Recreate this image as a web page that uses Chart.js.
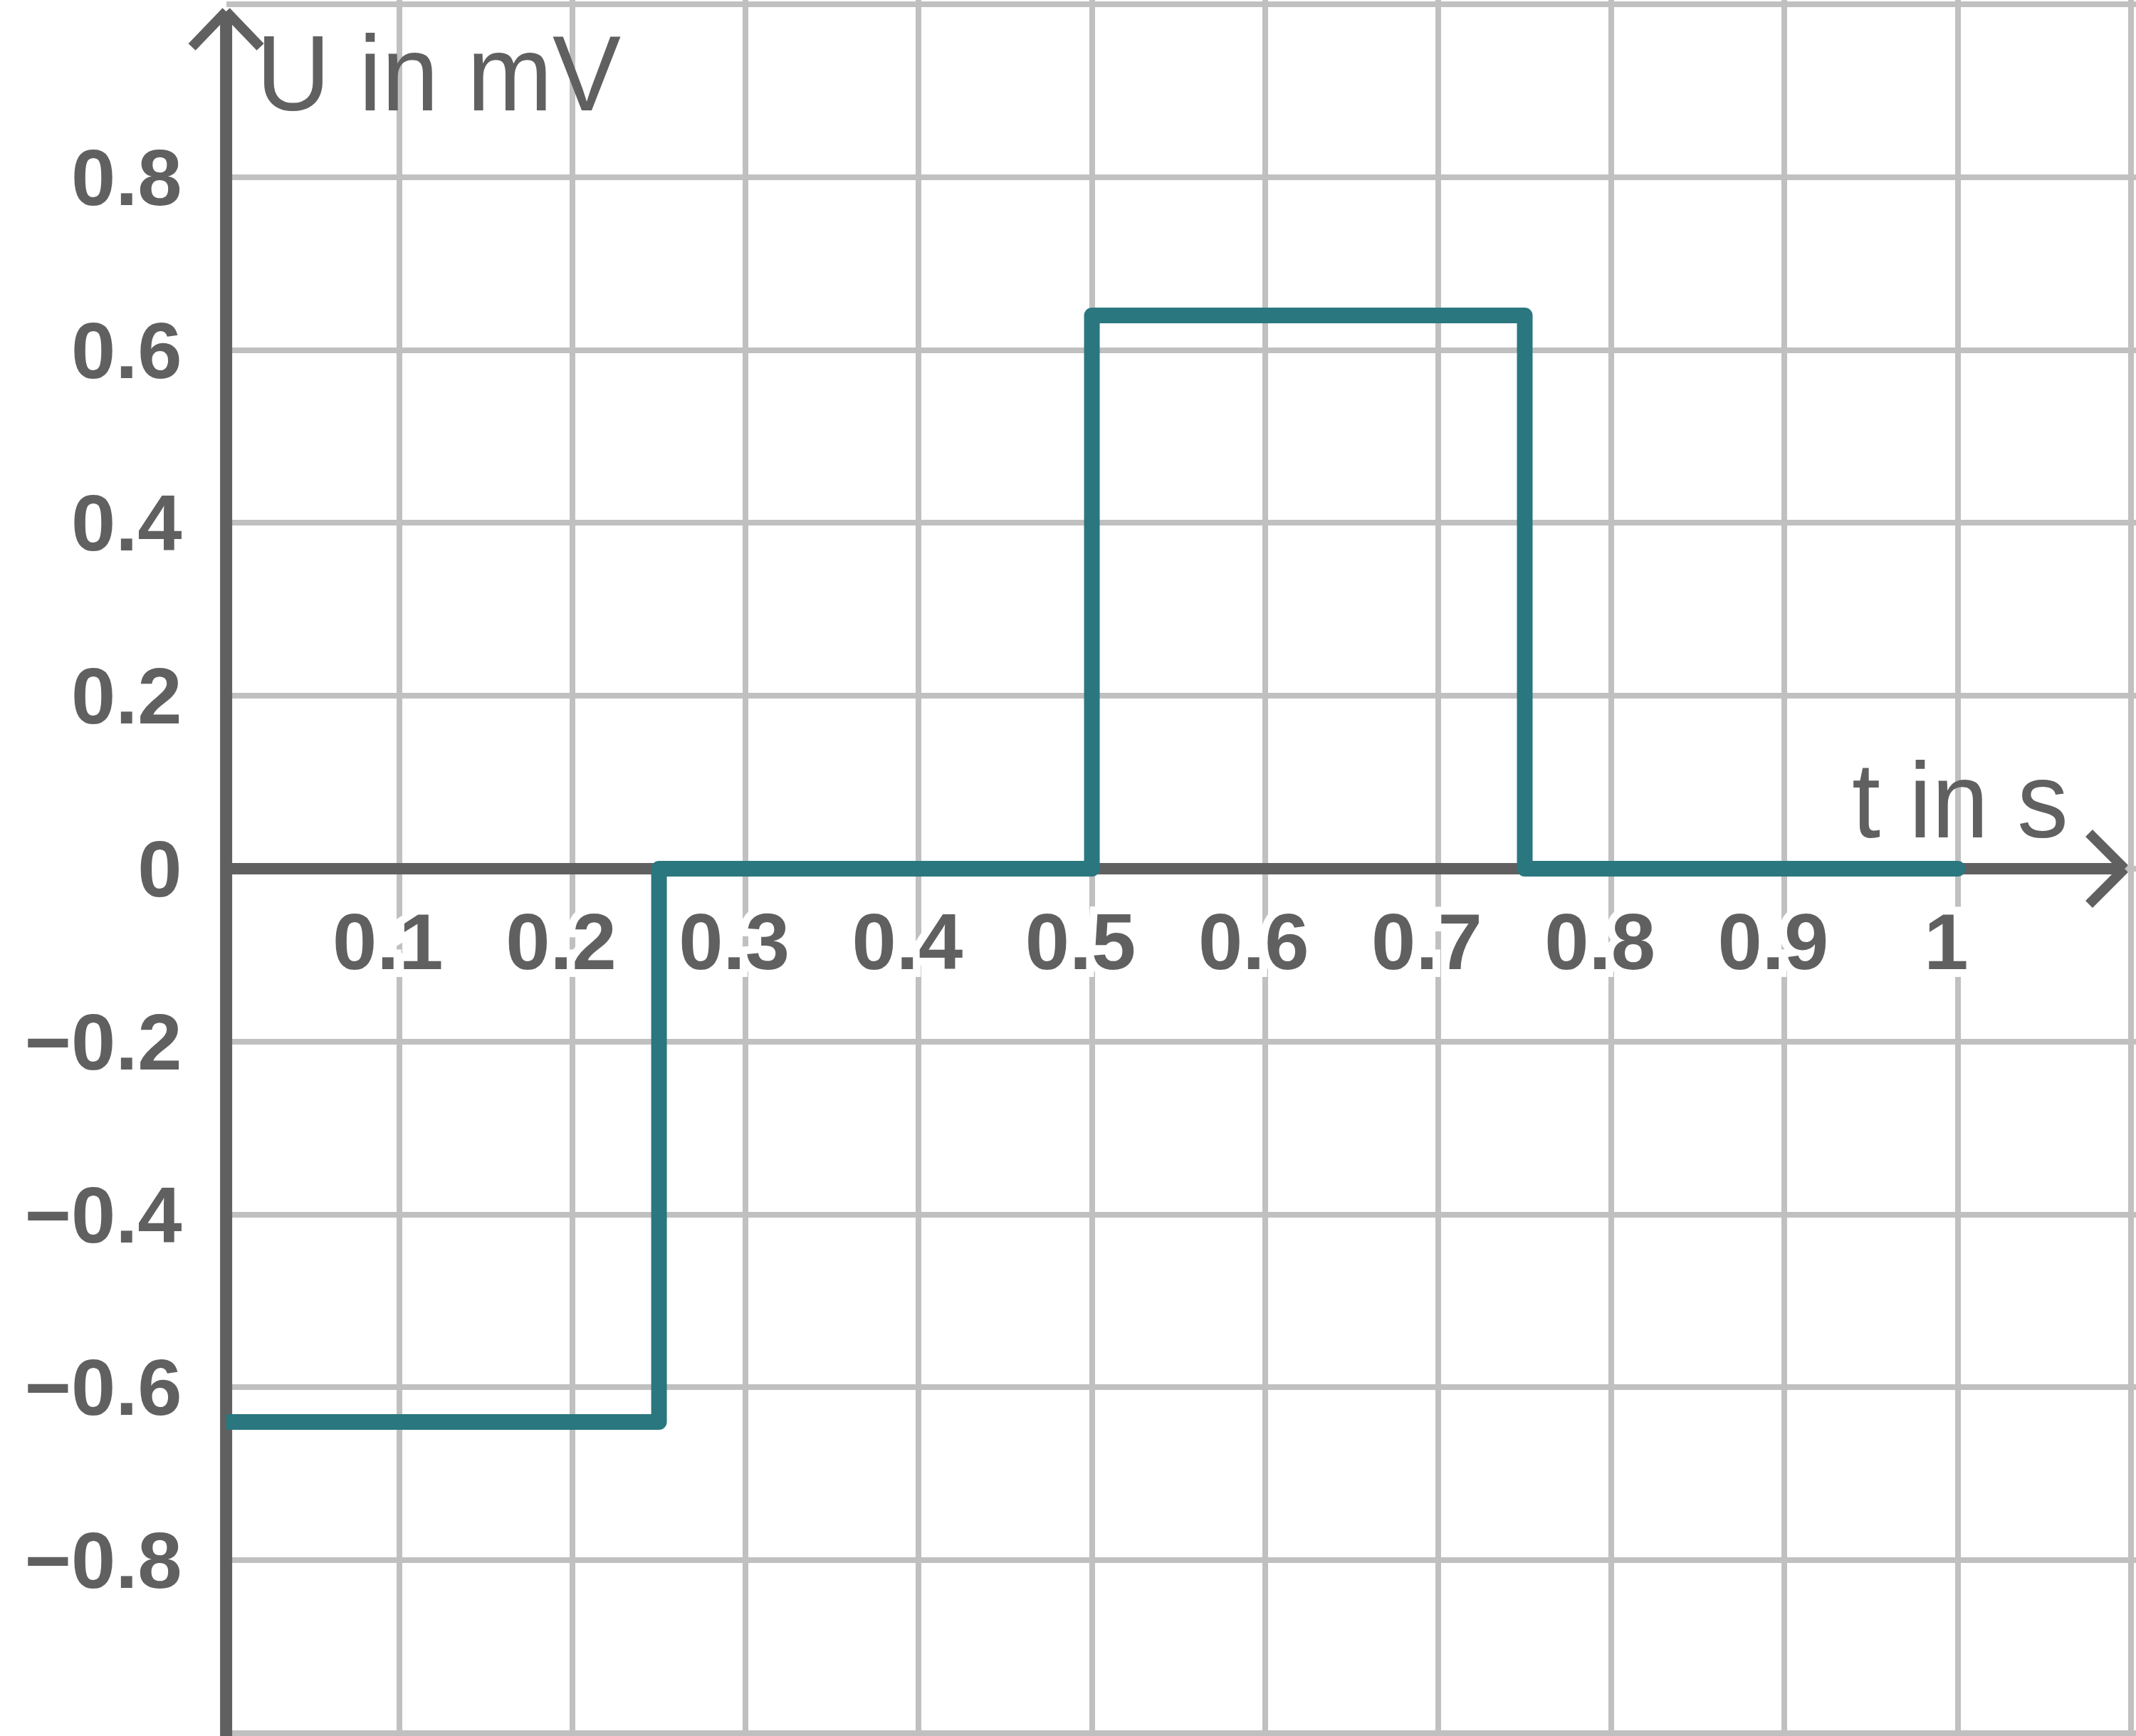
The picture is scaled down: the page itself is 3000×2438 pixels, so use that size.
<!DOCTYPE html>
<html>
<head>
    <title>U in mV over t in s</title>
    <style>
        body { margin: 0; padding: 0; background: #fff; overflow: hidden; }
        #chart { display: block; }
    </style>
    <script src="https://cdn.jsdelivr.net/npm/chart.js"></script>
</head>
<body>
    <canvas id="chart" width="3000" height="2438"></canvas>

    <script>
        // signal (step shape)
        const tValues = [0, 0.25, 0.25, 0.5, 0.5, 0.75, 0.75, 1];
        const uValues = [-0.64, -0.64, 0, 0, 0.64, 0.64, 0, 0];

        // grid lines and tick labels
        const xGrid = [0.1, 0.2, 0.3, 0.4, 0.5, 0.6, 0.7, 0.8, 0.9, 1.0, 1.1];
        const xTicks = [0.1, 0.2, 0.3, 0.4, 0.5, 0.6, 0.7, 0.8, 0.9, 1.0];
        const xTickLabels = ['0.1', '0.2', '0.3', '0.4', '0.5', '0.6', '0.7', '0.8', '0.9', '1'];
        const yGrid = [-1, -0.8, -0.6, -0.4, -0.2, 0, 0.2, 0.4, 0.6, 0.8, 1];
        const yTicks = [-0.8, -0.6, -0.4, -0.2, 0, 0.2, 0.4, 0.6, 0.8];
        const yTickLabels = ['\u22120.8', '\u22120.6', '\u22120.4', '\u22120.2', '0', '0.2', '0.4', '0.6', '0.8'];

        const xTitle = 't in s';
        const yTitle = 'U in mV';

        const axisColor = '#606060';
        const gridColor = '#c0c0c0';
        const lineColor = '#2a777f';
        const family = "'Liberation Sans', Arial, sans-serif";

        function labelFor(value, ticks, labels) {
            const i = ticks.findIndex(t => Math.abs(t - value) < 1e-9);
            return i >= 0 ? labels[i] : '';
        }

        // slightly narrower text like the original titles
        function narrowText(ctx, text, x, y) {
            ctx.save();
            ctx.translate(x, y);
            ctx.scale(0.96, 1);
            ctx.fillText(text, 0, 0);
            ctx.restore();
        }

        const axesPlugin = {
            id: 'arrowAxes',
            beforeDatasetsDraw(chart) {
                const ctx = chart.ctx;
                const x0 = chart.scales.x.getPixelForValue(0);
                const y0 = chart.scales.y.getPixelForValue(0);
                ctx.save();
                ctx.strokeStyle = axisColor;
                ctx.lineCap = 'butt';

                // y axis with arrow
                ctx.lineWidth = 17;
                ctx.beginPath();
                ctx.moveTo(x0, chart.height);
                ctx.lineTo(x0, 20);
                ctx.stroke();
                ctx.lineWidth = 14;
                ctx.beginPath();
                ctx.moveTo(x0 - 48, 66);
                ctx.lineTo(x0, 16);
                ctx.moveTo(x0 + 48, 66);
                ctx.lineTo(x0, 16);
                ctx.stroke();

                // x axis with arrow
                ctx.lineWidth = 16;
                ctx.beginPath();
                ctx.moveTo(x0, y0);
                ctx.lineTo(2978, y0);
                ctx.stroke();
                ctx.lineWidth = 14;
                ctx.beginPath();
                ctx.moveTo(2934, y0 - 50);
                ctx.lineTo(2984, y0);
                ctx.moveTo(2934, y0 + 50);
                ctx.lineTo(2984, y0);
                ctx.stroke();

                // axis titles
                ctx.fillStyle = axisColor;
                ctx.font = '150px ' + family;
                ctx.textAlign = 'left';
                ctx.textBaseline = 'alphabetic';
                narrowText(ctx, yTitle, 360, 155);
                narrowText(ctx, xTitle, 2601, y0 - 44);
                ctx.restore();
            }
        };

        const tickFont = { family: family, size: 112, weight: 'bold', lineHeight: 1.2 };

        new Chart(document.getElementById('chart'), {
            type: 'line',
            data: {
                datasets: [{
                    data: tValues.map((t, i) => ({ x: t, y: uValues[i] })),
                    borderColor: lineColor,
                    borderWidth: 22,
                    borderJoinStyle: 'round',
                    borderCapStyle: 'round',
                    pointRadius: 0,
                    tension: 0,
                    fill: false
                }]
            },
            options: {
                responsive: false,
                devicePixelRatio: 1,
                animation: false,
                layout: { padding: 0 },
                plugins: {
                    legend: { display: false },
                    tooltip: { enabled: false }
                },
                scales: {
                    x: {
                        type: 'linear',
                        position: { y: 0 },
                        min: 0,
                        max: 1.103,
                        afterBuildTicks: s => { s.ticks = xGrid.map(v => ({ value: v })); },
                        afterFit: s => { s.height = 0; s.paddingLeft = 0; s.paddingRight = 0; },
                        grid: { color: gridColor, lineWidth: 8, drawTicks: false },
                        border: { display: false },
                        ticks: {
                            autoSkip: false,
                            maxRotation: 0,
                            padding: 43,
                            labelOffset: -16,
                            color: axisColor,
                            font: tickFont,
                            textStrokeColor: '#ffffff',
                            textStrokeWidth: 22,
                            callback: v => labelFor(v, xTicks, xTickLabels)
                        }
                    },
                    y: {
                        type: 'linear',
                        position: 'left',
                        min: -1.0033,
                        max: 1.005,
                        afterBuildTicks: s => { s.ticks = yGrid.map(v => ({ value: v })); },
                        afterFit: s => { s.width = 317.6; s.paddingTop = 0; s.paddingBottom = 0; },
                        grid: { color: gridColor, lineWidth: 8, drawTicks: false },
                        border: { display: false },
                        ticks: {
                            padding: 62,
                            labelOffset: 8,
                            color: axisColor,
                            font: tickFont,
                            callback: v => labelFor(v, yTicks, yTickLabels)
                        }
                    }
                }
            },
            plugins: [axesPlugin]
        });
    </script>
</body>
</html>
